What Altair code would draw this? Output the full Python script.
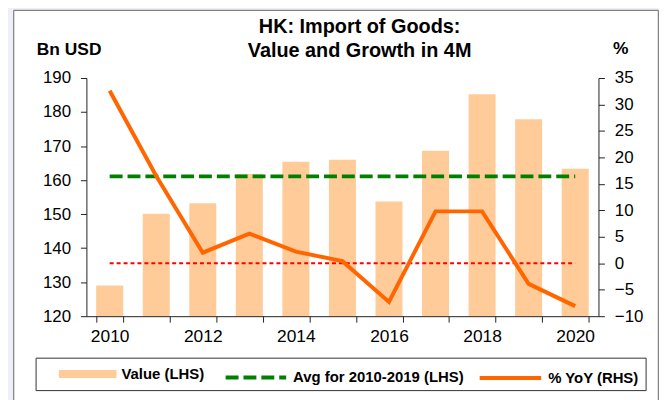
import altair as alt
import pandas as pd

# ---- data ----
years = [2010, 2011, 2012, 2013, 2014, 2015, 2016, 2017, 2018, 2019, 2020]
values = [129.0, 150.1, 153.2, 161.8, 165.4, 166.0, 153.7, 168.6, 185.2, 177.9, 163.3]
yoy = [32.6, 16.5, 2.0, 5.6, 2.2, 0.4, -7.3, 9.8, 9.8, -3.9, -8.1]
left_ticks = [120, 130, 140, 150, 160, 170, 180, 190]
right_ticks = [-10, -5, 0, 5, 10, 15, 20, 25, 30, 35]
value_label = "Value (LHS)"
avg_label = "Avg for 2010-2019 (LHS)"
yoy_label = "% YoY (RHS)"
title_lines = ["HK: Import of Goods:", "Value and Growth in 4M"]

avg = sum(values[:10]) / 10.0

df = pd.DataFrame({
    "year": years,
    "value": values,
    "yoy": yoy,
    "avg": [avg] * len(years),
    "zero": [0] * len(years),
    "s_val": [value_label] * len(years),
    "s_avg": [avg_label] * len(years),
    "s_yoy": [yoy_label] * len(years),
})
one = pd.DataFrame({"k": [0]})

FONT = "Liberation Sans"
BAR = "#FFCC99"
GREEN = "#008000"
ORANGE = "#FF6600"
RED = "#FF0000"
AX = "#222222"

xscale = alt.Scale(type="band", paddingInner=0.42, paddingOuter=0.21)
x_axis = alt.Axis(
    title=None, tickBand="extent", labelAngle=0, labelOverlap=False,
    labelExpr="datum.value % 2 == 0 ? datum.label : ''",
    labelFont=FONT, labelFontSize=17.5, labelColor="black", labelPadding=6,
    tickSize=6, tickColor=AX, domainColor=AX, grid=False, zindex=1,
)
x_enc = alt.X("year:O", scale=xscale, axis=x_axis, bandPosition=0.5)

left_axis = alt.Axis(
    orient="left", values=left_ticks, grid=False, zindex=1,
    title="Bn USD", titleAngle=0, titleX=-17.9, titleY=-23.4,
    titleAlign="center", titleBaseline="alphabetic",
    titleFont=FONT, titleFontSize=17.5, titleFontWeight="bold", titleColor="black",
    labelFont=FONT, labelFontSize=17, labelColor="black", labelPadding=10,
    tickSize=6, tickColor=AX, domainColor=AX,
)
right_axis = alt.Axis(
    orient="right", values=right_ticks, grid=False, zindex=1,
    title="%", titleAngle=0, titleX=21.8, titleY=-24.5,
    titleAlign="center", titleBaseline="alphabetic",
    titleFont=FONT, titleFontSize=17.5, titleFontWeight="bold", titleColor="black",
    labelFont=FONT, labelFontSize=17, labelColor="black", labelPadding=10,
    tickSize=6, tickColor=AX, domainColor=AX,
)
lscale = alt.Scale(domain=[120, 190], zero=False, nice=False)
rscale = alt.Scale(domain=[-10, 35], zero=False, nice=False)

def leg(x, y, **kw):
    return alt.Legend(
        orient="none", legendX=x, legendY=y, title=None, padding=0,
        labelFont=FONT, labelFontSize=15, labelFontWeight="bold",
        labelColor="black", labelOffset=5, labelLimit=400, zindex=1, **kw,
    )

bars = alt.Chart(df).mark_bar(clip=True).encode(
    x=x_enc,
    y=alt.Y("value:Q", scale=lscale, axis=left_axis),
    color=alt.Color("s_val:N", scale=alt.Scale(domain=[value_label], range=[BAR]),
                    legend=leg(-27.7, 269.3,
                               symbolType="M-1,-0.138L1,-0.138L1,0.138L-1,0.138Z",
                               symbolSize=3364, symbolStrokeWidth=0)),
)
avg_line = alt.Chart(df).mark_line(color=GREEN, strokeWidth=4).encode(
    x=x_enc,
    y=alt.Y("avg:Q", scale=lscale, axis=left_axis),
    strokeDash=alt.StrokeDash("s_avg:N", scale=alt.Scale(domain=[avg_label], range=[[13, 5]]),
                              legend=leg(138.3, 269.3, symbolType="stroke", symbolSize=3721,
                                         symbolStrokeWidth=4, symbolStrokeColor=GREEN)),
)
zero_line = alt.Chart(df).mark_line(color=RED, strokeWidth=2, strokeDash=[4, 3]).encode(
    x=x_enc,
    y=alt.Y("zero:Q", scale=rscale, axis=right_axis),
)
yoy_line = alt.Chart(df).mark_line(strokeWidth=4).encode(
    x=x_enc,
    y=alt.Y("yoy:Q", scale=rscale, axis=right_axis),
    stroke=alt.Stroke("s_yoy:N", scale=alt.Scale(domain=[yoy_label], range=[ORANGE]),
                      legend=leg(394.3, 269.3, symbolType="stroke", symbolSize=3844,
                                 symbolStrokeWidth=4)),
)

frame = alt.Chart(one).mark_rect(fill="white", stroke="#666666", strokeWidth=1).encode(
    x=alt.value(-73.2), x2=alt.value(576.3), y=alt.value(-68.2), y2=alt.value(333.3),
)
legend_box = alt.Chart(one).mark_rect(fill=None, stroke="#333333", strokeWidth=1).encode(
    x=alt.value(-50.7), x2=alt.value(564.0), y=alt.value(282.3), y2=alt.value(315.0),
)
title = alt.Chart(one).mark_text(
    text=title_lines, font=FONT, fontSize=20, fontWeight="bold", color="black",
    lineHeight=24, align="center", baseline="alphabetic",
).encode(x=alt.value(275.3), y=alt.value(-45.5))

left = alt.layer(bars, avg_line)
right = alt.layer(zero_line, yoy_line)

chart = alt.layer(frame, left, right, legend_box, title).resolve_scale(
    y="independent", color="independent", stroke="independent", strokeDash="independent"
).properties(
    width=516, height=240,
    padding={"left": 5, "top": 0, "right": 0, "bottom": 0},
    background="#EFEFF7",
).configure_view(stroke=None)

chart.save("out.html", embed_options={"renderer": "svg", "actions": False})
